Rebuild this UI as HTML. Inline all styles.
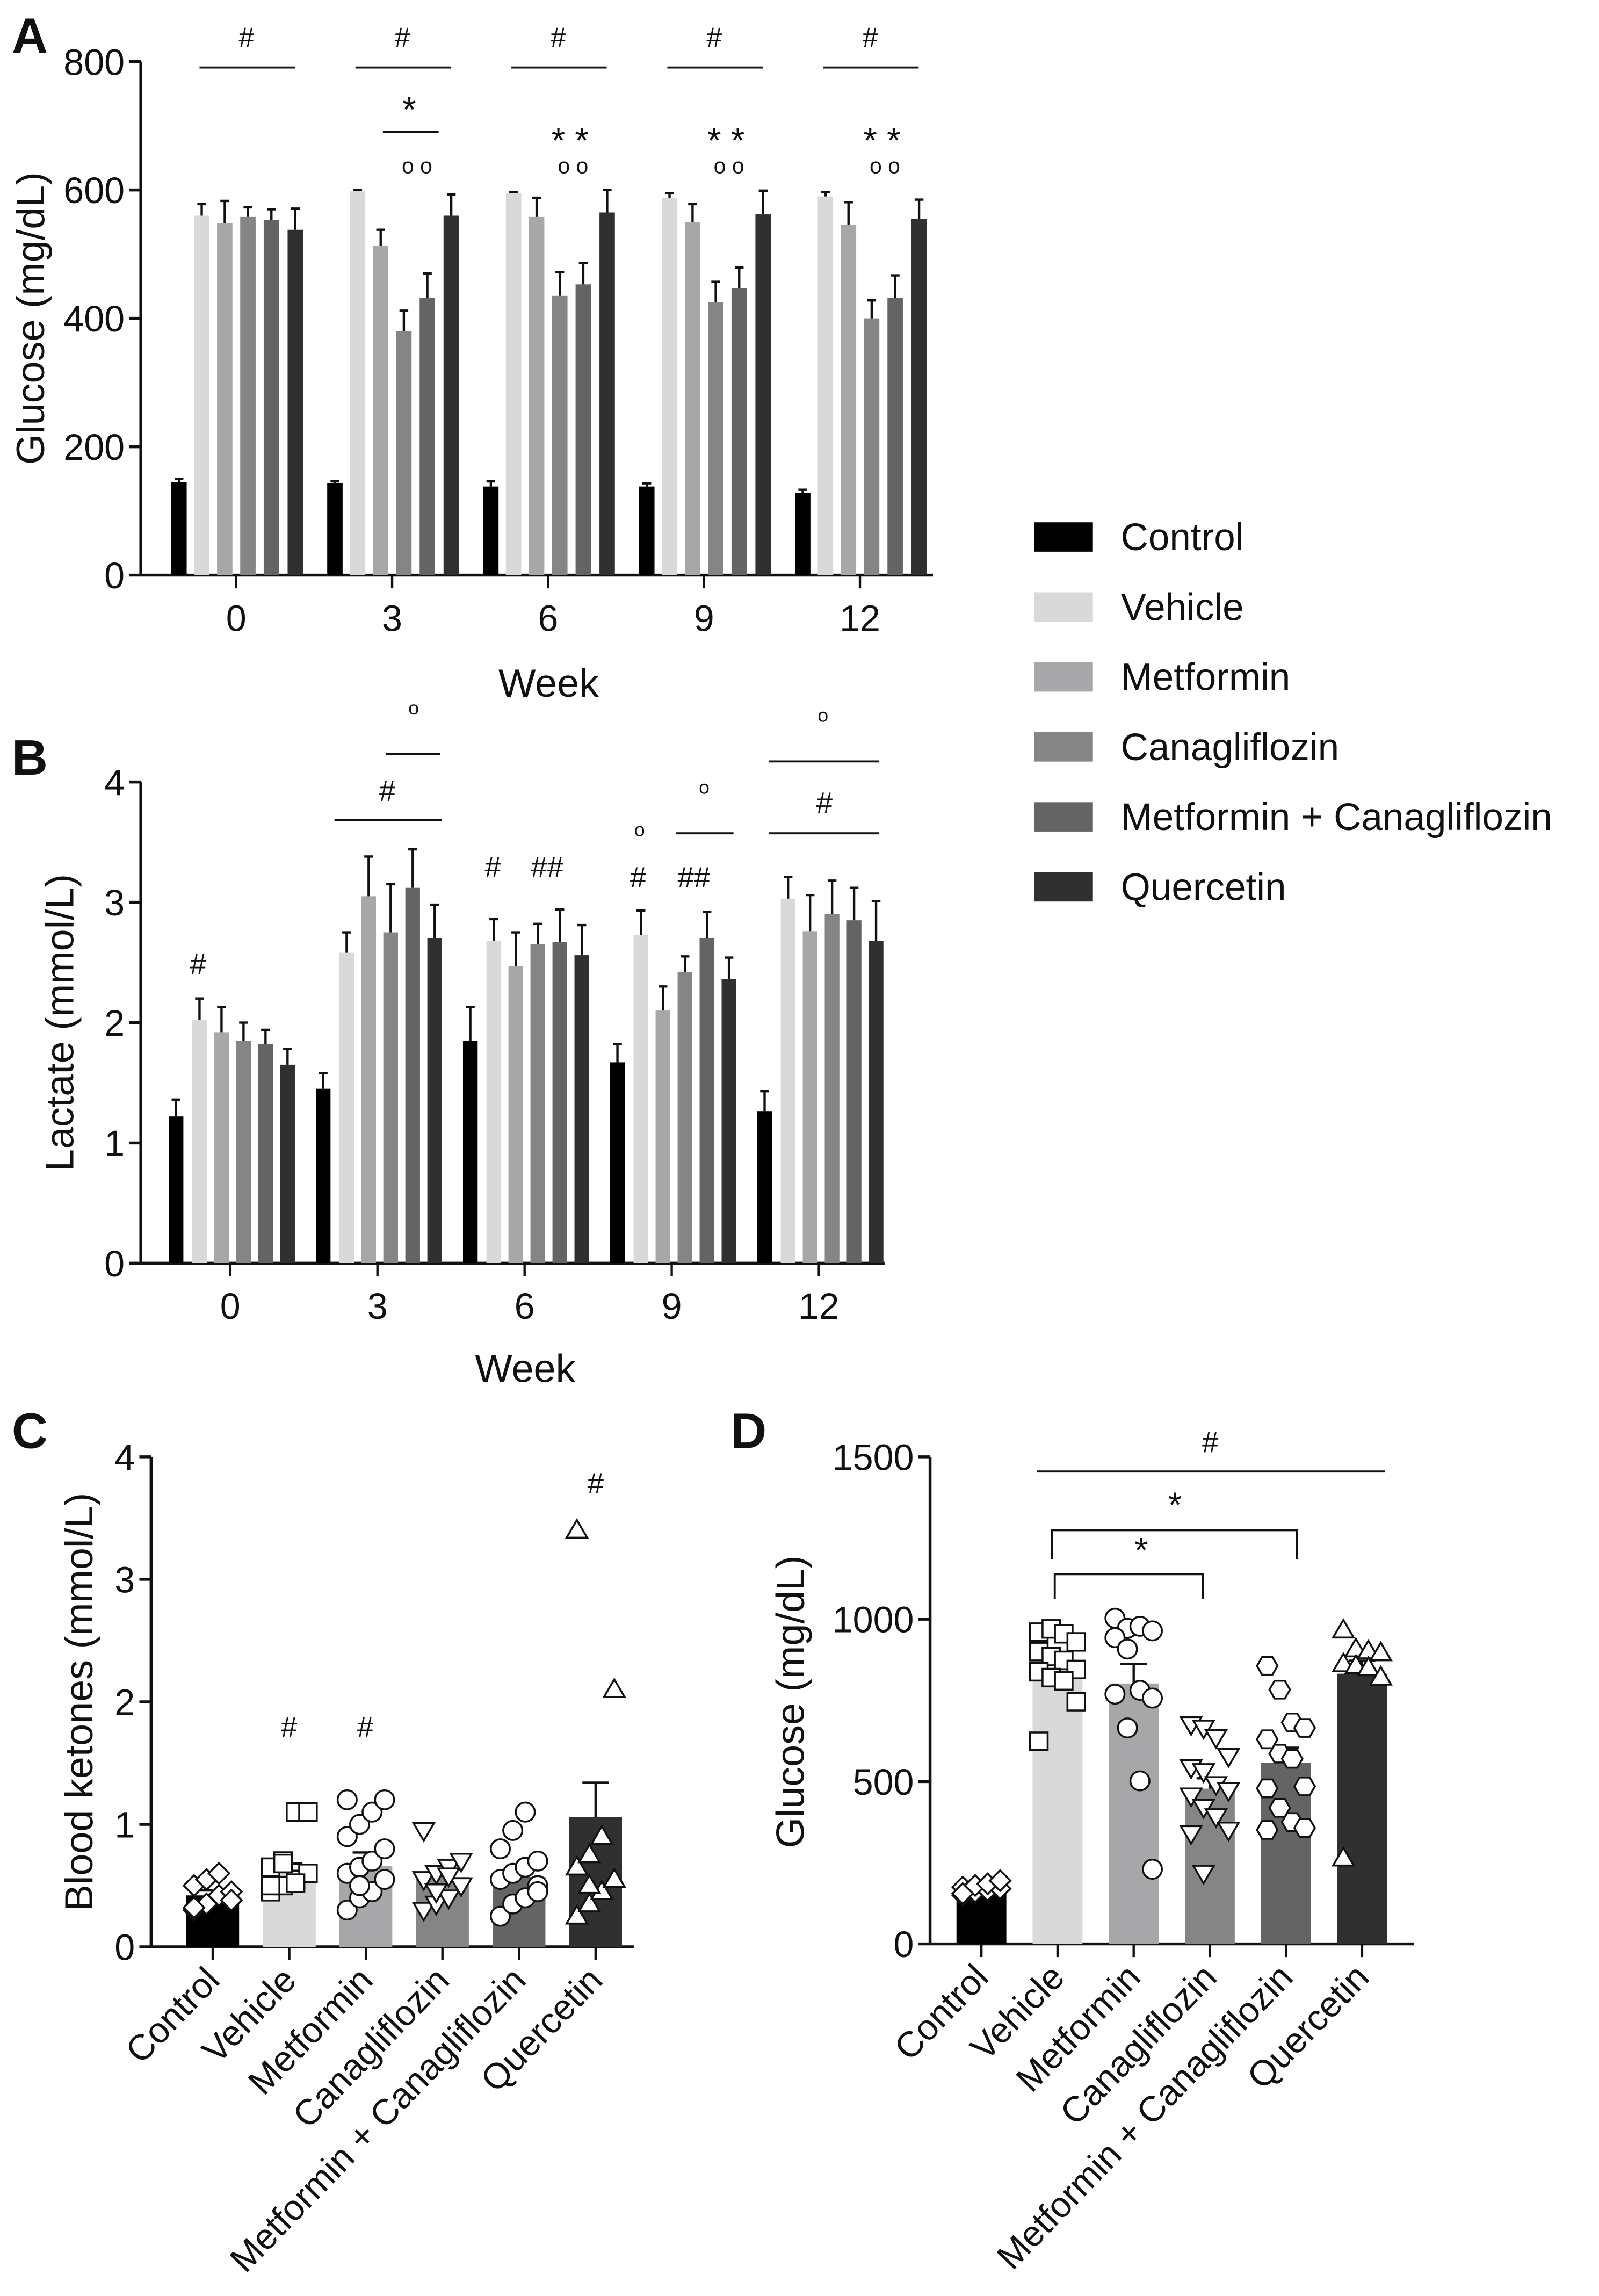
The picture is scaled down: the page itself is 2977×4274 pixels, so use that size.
<!DOCTYPE html>
<html><head><meta charset="utf-8"><style>
html,body{margin:0;padding:0;background:#fff}
svg{display:block}
text{font-family:"Liberation Sans",Arial,sans-serif;fill:#111}
</style></head><body>
<svg id="fig" xmlns="http://www.w3.org/2000/svg" width="2977" height="4274" viewBox="0 0 1090 1565" preserveAspectRatio="none">
<rect x="0" y="0" width="1090" height="1565" fill="#fff"/>
<g id="gA"></g>
<g id="gB"></g>
<g id="gC"></g>
<g id="gD"></g>
<g id="gL"></g>
</svg>
<script>
var groups = ["Control","Vehicle","Metformin","Canagliflozin","Metformin + Canagliflozin","Quercetin"];
var colors = ["#000000","#d9d9d9","#a7a7a9","#858585","#646464","#303030"];
var weeks = ["0","3","6","9","12"];
// Panel A: glucose mg/dL, rows = week, cols = group
var glucoseMean = [[145,560,548,558,553,538],[143,598,513,380,432,560],[138,595,558,435,453,565],[138,588,550,425,447,562],[128,590,546,400,432,555]];
var glucoseErr = [[5,18,35,15,17,33],[3,2,25,32,38,33],[8,2,30,37,33,35],[5,7,28,32,32,37],[5,7,35,28,35,30]];
var glucoseTicks = [0,200,400,600,800];
// Panel B: lactate mmol/L
var lactateMean = [[1.22,2.02,1.92,1.85,1.82,1.65],[1.45,2.58,3.05,2.75,3.12,2.70],[1.85,2.68,2.47,2.65,2.67,2.56],[1.67,2.73,2.10,2.42,2.70,2.36],[1.26,3.03,2.76,2.90,2.85,2.68]];
var lactateErr = [[0.14,0.18,0.21,0.15,0.12,0.13],[0.13,0.17,0.33,0.40,0.32,0.28],[0.28,0.18,0.28,0.17,0.27,0.25],[0.15,0.20,0.20,0.13,0.22,0.18],[0.17,0.18,0.30,0.28,0.27,0.33]];
var lactateTicks = [0,1,2,3,4];
// Panel C: ketones
var ketoneMean = [0.42,0.62,0.66,0.57,0.57,1.06];
var ketoneErr = [0.04,0.06,0.11,0.09,0.08,0.28];
var ketonePts = [
 [0.30,0.35,0.42,0.45,0.50,0.55,0.60,0.38,0.32],
 [0.45,0.50,0.55,0.60,0.65,0.70,1.10,1.10,0.50,0.68,0.52],
 [0.30,0.40,0.45,0.55,0.60,0.65,0.70,0.80,0.90,1.00,1.10,1.20,1.20,0.50],
 [0.30,0.35,0.40,0.50,0.55,0.60,0.65,0.70,0.95,0.45,0.58],
 [0.25,0.35,0.40,0.50,0.55,0.60,0.65,0.70,0.80,0.95,1.10,0.45],
 [0.25,0.35,0.45,0.55,0.65,0.75,0.90,2.10,3.40,0.50]];
var ketoneTicks = [0,1,2,3,4];
// Panel D: glucose endpoint
var gluMean = [168,850,802,478,558,832];
var gluErr = [6,35,60,32,46,40];
var gluPts = [
 [150,160,165,170,175,180,185,195,155],
 [960,970,955,930,900,885,873,845,838,820,810,746,624],
 [1003,972,978,964,943,908,781,757,769,665,502,230],
 [676,665,636,578,543,531,491,473,456,421,392,351,340,218],
 [856,783,682,665,630,586,570,485,479,419,375,357,351],
 [966,908,902,896,862,856,850,821,264]];
var gluTicks = [0,500,1000,1500];

var NS="http://www.w3.org/2000/svg";
function mk(parent,tag,attrs,txt){var e=document.createElementNS(NS,tag);for(var k in attrs)e.setAttribute(k,attrs[k]);if(txt!==undefined)e.textContent=txt;parent.appendChild(e);return e;}
function ln(p,x1,y1,x2,y2,w){return mk(p,"line",{x1:x1,y1:y1,x2:x2,y2:y2,stroke:"#111","stroke-width":w||1.6});}
function txt(p,x,y,s,size,anchor,extra){var a={x:x,y:y,"font-size":size,"text-anchor":anchor||"middle"};if(extra)for(var k in extra)a[k]=extra[k];return mk(p,"text",a,s);}

function grouped(g,cfg){
  var y=function(v){return cfg.y0-(v-cfg.vmin)/(cfg.vmax-cfg.vmin)*(cfg.y0-cfg.y1);};
  var xc=function(i){return cfg.x0c+i*cfg.step;};
  var ax=ln(g,cfg.ax,cfg.y1,cfg.ax,cfg.y0,2);
  
  
  var bx=ln(g,cfg.ax,cfg.y0,cfg.axEnd,cfg.y0,2);
  
  
  cfg.ticks.forEach(function(t){ln(g,cfg.ax-8,y(t),cfg.ax,y(t),2);var l=txt(g,cfg.ax-11,y(t)+9,String(t),25,"end");
    
    });
  weeks.forEach(function(w,i){ln(g,xc(i),cfg.y0,xc(i),cfg.y0+9,1.6);var l=txt(g,xc(i),cfg.y0+38,w,25);
    
    
    cfg.mean[i].forEach(function(v,j){
      var cx=xc(i)+cfg.off[j],top=y(v),e=y(v+cfg.err[i][j]);
      var r=mk(g,"rect",{x:cx-cfg.bw/2,y:top,width:cfg.bw,height:cfg.y0-top,fill:colors[j]});
      
      
      ln(g,cx,top,cx,e,1.6);ln(g,cx-3,e,cx+3,e,1.6);
    });
  });
}

// Panel A
var gA=document.getElementById("gA");
grouped(gA,{ax:96,axEnd:636,y0:392,y1:42,vmin:0,vmax:800,x0c:161,step:106.3,bw:10.5,off:[-39,-23.5,-7.8,8,24,40.3],mean:glucoseMean,err:glucoseErr,ticks:glucoseTicks});
txt(gA,8,36,"A",34,"start",{"font-weight":"bold"});
var tA=txt(gA,0,0,"Glucose (mg/dL)",27,"middle",{transform:"translate(30,217) rotate(-90)"});


var wA=txt(gA,374,475,"Week",27);


[0,1,2,3,4].forEach(function(i){var c=161+i*106.3;ln(gA,c-25,46,c+40,46,1.4);txt(gA,c+7,32,"#",19);});
ln(gA,261,90,299,90,1.4);txt(gA,279,83,"*",24);
[2,3,4].forEach(function(i){var c=161+i*106.3;txt(gA,c+15,104,"* *",24);});
[1,2,3,4].forEach(function(i){var c=161+i*106.3;txt(gA,c+17,118,"o  o",15);});

// Panel B
var gB=document.getElementById("gB");
grouped(gB,{ax:96,axEnd:603,y0:861,y1:533,vmin:0,vmax:4,x0c:157,step:100.3,bw:10,off:[-37,-21,-6,9,24,39],mean:lactateMean,err:lactateErr,ticks:lactateTicks});
txt(gB,8,528,"B",34,"start",{"font-weight":"bold"});
var tB=txt(gB,0,0,"Lactate (mmol/L)",27,"middle",{transform:"translate(50,697) rotate(-90)"});


var wB=txt(gB,358,942,"Week",27);


txt(gB,135,664,"#",20);
ln(gB,228,559,301,559,1.4);txt(gB,264,546,"#",20);
ln(gB,263,514,300,514,1.4);txt(gB,282,487,"o",13);
txt(gB,336,598,"#",20);txt(gB,373,598,"##",20);
txt(gB,436,570,"o",13);txt(gB,435,605,"#",20);txt(gB,473,605,"##",20);
ln(gB,461,568,500,568,1.4);txt(gB,480,541,"o",13);
ln(gB,524,519,599,519,1.4);txt(gB,561,492,"o",13);
ln(gB,524,568,599,568,1.4);txt(gB,562,554,"#",20);

// Scatter-bar panels
function marker(g,kind,x,y,fill){
  var s=7, a={fill:fill,stroke:"#111","stroke-width":1.3};
  var e;
  if(kind==="diamond"){a.points=[x,y-s,x+s,y,x,y+s,x-s,y].join(",");e=mk(g,"polygon",a);}
  else if(kind==="square"){a.x=x-6;a.y=y-6;a.width=12;a.height=12;e=mk(g,"rect",a);}
  else if(kind==="circle"){a.cx=x;a.cy=y;a.r=6.5;e=mk(g,"circle",a);}
  else if(kind==="down"){a.points=[x-7,y-5,x+7,y-5,x,y+7].join(",");e=mk(g,"polygon",a);}
  else if(kind==="up"){a.points=[x-7,y+5,x+7,y+5,x,y-7].join(",");e=mk(g,"polygon",a);}
  else if(kind==="hex"){var p=[];for(var k=0;k<6;k++){var t=Math.PI/3*k;p.push(x+7*Math.cos(t),y+7*Math.sin(t));}a.points=p.join(",");e=mk(g,"polygon",a);}
  return e;
}
function scatterBar(g,cfg){
  var y=function(v){return cfg.y0-(v-cfg.vmin)/(cfg.vmax-cfg.vmin)*(cfg.y0-cfg.y1);};
  var xc=function(i){return cfg.x0c+i*cfg.step;};
  var ax=ln(g,cfg.ax,cfg.y1,cfg.ax,cfg.y0,2);
  
  
  var bx=ln(g,cfg.ax,cfg.y0,cfg.axEnd,cfg.y0,2);
  
  
  cfg.ticks.forEach(function(t){ln(g,cfg.ax-8,y(t),cfg.ax,y(t),2);var l=txt(g,cfg.ax-11,y(t)+9,String(t),25,"end");
    
    });
  groups.forEach(function(name,i){
    var cx=xc(i),top=y(cfg.mean[i]),e=y(cfg.mean[i]+cfg.err[i]);
    var r=mk(g,"rect",{x:cx-cfg.bw/2,y:top,width:cfg.bw,height:cfg.y0-top,fill:colors[i]});
    
    
    ln(g,cx,top,cx,e,1.6);ln(g,cx-9,e,cx+9,e,1.6);
    cfg.pts[i].forEach(function(v,k){
      var jit=((k%4)-1.5)*8.5;
      var m=marker(g,cfg.kinds[i],cx+jit,y(v),"#fff");
      
      
    });
    ln(g,cx,cfg.y0,cx,cfg.y0+9,1.6);
    var l=txt(g,0,0,name,24.5,"end",{transform:"translate("+(cx+6)+","+(cfg.y0+24)+") rotate(-46)"});
    
    
  });
}
var gC=document.getElementById("gC");
scatterBar(gC,{ax:103,axEnd:432,y0:1327,y1:993,vmin:0,vmax:4,x0c:145,step:52.2,bw:36,mean:ketoneMean,err:ketoneErr,pts:ketonePts,ticks:ketoneTicks,kinds:["diamond","square","circle","down","circle","up"]});
txt(gC,8,987,"C",34,"start",{"font-weight":"bold"});
var tC=txt(gC,0,0,"Blood ketones (mmol/L)",27,"middle",{transform:"translate(63,1160) rotate(-90)"});


txt(gC,197,1184,"#",20);txt(gC,249,1184,"#",20);txt(gC,406,1018,"#",20);

var gD=document.getElementById("gD");
scatterBar(gD,{ax:634,axEnd:964,y0:1325,y1:993,vmin:0,vmax:1500,x0c:669,step:51.9,bw:34,mean:gluMean,err:gluErr,pts:gluPts,ticks:gluTicks,kinds:["diamond","square","circle","down","hex","up"]});
txt(gD,498,987,"D",34,"start",{"font-weight":"bold"});
var tD=txt(gD,0,0,"Glucose (mg/dL)",27,"middle",{transform:"translate(548,1160) rotate(-90)"});


ln(gD,707,1003,944,1003,1.4);txt(gD,825,990,"#",20);
mk(gD,"polyline",{points:"717,1063 717,1043 884,1043 884,1063",fill:"none",stroke:"#111","stroke-width":1.4});txt(gD,801,1034,"*",24);
mk(gD,"polyline",{points:"719,1090 719,1073 820,1073 820,1090",fill:"none",stroke:"#111","stroke-width":1.4});txt(gD,778,1065,"*",24);

// Legend
var gL=document.getElementById("gL");
groups.forEach(function(n,i){
  var yy=366+i*47.7;
  var r=mk(gL,"rect",{x:705,y:yy-10,width:40,height:20,fill:colors[i]});
  
  
  var t=txt(gL,764,yy+9,n,26,"start");
  
  
});
</script>
</body></html>
